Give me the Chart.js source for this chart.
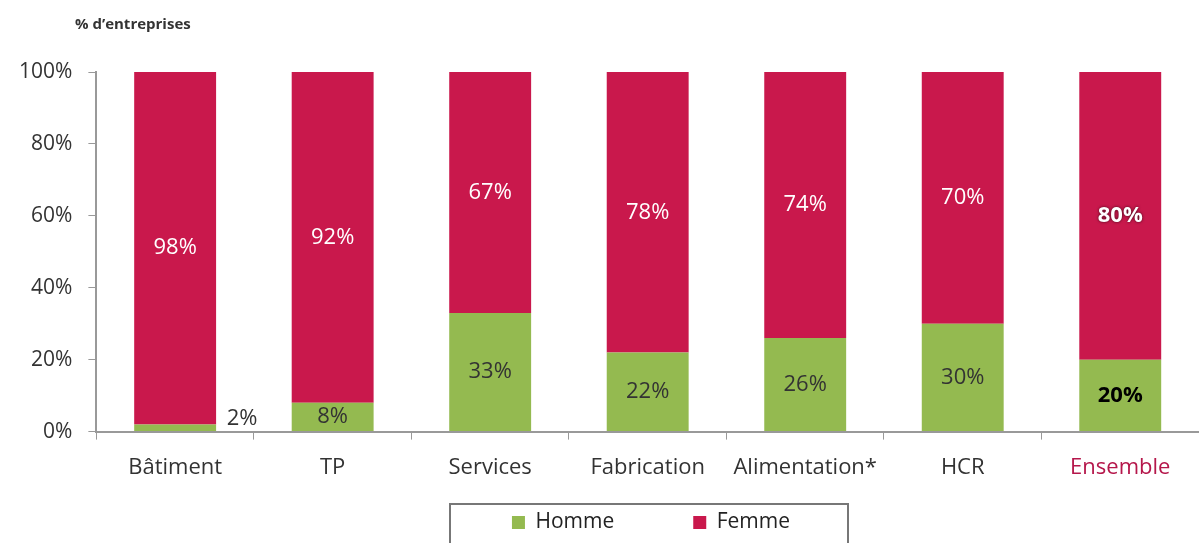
<!DOCTYPE html>
<html lang="fr">
<head>
<meta charset="UTF-8">
<title>Répartition hommes / femmes</title>
<style>
  html, body { margin: 0; padding: 0; background: #fff; }
  #wrap { width: 1199px; height: 543px; }
</style>
</head>
<body>
<div id="wrap"><canvas id="chart"></canvas></div>
<script src="https://cdn.jsdelivr.net/npm/chart.js"></script>
<script>
const categories = ['Bâtiment', 'TP', 'Services', 'Fabrication', 'Alimentation*', 'HCR', 'Ensemble'];
const homme = [2, 8, 33, 22, 26, 30, 20];
const femme = [98, 92, 67, 78, 74, 70, 80];
const yTicks = [0, 20, 40, 60, 80, 100];

const FONT = '"Open Sans", Lato, sans-serif';
const GREEN = '#94BA50';
const RED = '#C9184C';

// étiquettes de valeurs, titre de l'axe et cadre de la légende
const labelsPlugin = {
  id: 'valueLabels',
  afterLayout(chart) {
    // décaler la légende vers la droite comme dans l'original
    const lg = chart.legend;
    if (lg) { lg.left += 50; lg.right += 50; }
  },
  afterDatasetsDraw(chart) {
    const ctx = chart.ctx;
    ctx.save();
    ctx.textAlign = 'center';
    ctx.textBaseline = 'middle';
    chart.data.datasets.forEach((ds, di) => {
      chart.getDatasetMeta(di).data.forEach((bar, i) => {
        const last = i === categories.length - 1;
        const v = ds.data[i];
        let x = bar.x, y = (bar.y + bar.base) / 2;
        ctx.font = (last ? 'bold ' : '') + '22px ' + FONT;
        if (di === 0 && v < 5) {
          x = bar.x + bar.width / 2 + 26;
          y = bar.y - 6;
        }
        if (di === 1) {
          ctx.fillStyle = '#fff';
          if (last) { ctx.shadowColor = 'rgba(0,0,0,0.7)'; ctx.shadowBlur = 3; }
        } else {
          ctx.fillStyle = last ? '#000' : '#333';
        }
        ctx.fillText(v + '%', x, y);
        ctx.shadowBlur = 0; ctx.shadowColor = 'transparent';
      });
    });
    ctx.textAlign = 'left';
    ctx.fillStyle = '#333';
    ctx.font = 'bold 15px ' + FONT;
    ctx.fillText('% d\u2019entreprises', 75, 25);
    ctx.strokeStyle = '#777';
    ctx.lineWidth = 2;
    ctx.strokeRect(450, 504, 398, 50);
    ctx.restore();
  }
};

new Chart(document.getElementById('chart'), {
  type: 'bar',
  data: {
    labels: categories,
    datasets: [
      { label: 'Homme', data: homme, backgroundColor: GREEN },
      { label: 'Femme', data: femme, backgroundColor: RED }
    ]
  },
  options: {
    responsive: true,
    maintainAspectRatio: false,
    animation: false,
    layout: { padding: { top: 72, right: 0, left: 3, bottom: 0 } },
    datasets: { bar: { barPercentage: 0.52, categoryPercentage: 1 } },
    plugins: {
      legend: {
        position: 'bottom',
        labels: {
          font: { family: FONT, size: 21 },
          color: '#222',
          boxWidth: 13,
          boxHeight: 13,
          padding: 16,
          generateLabels(chart) {
            const items = Chart.defaults.plugins.legend.labels.generateLabels(chart);
            items[0].text += '\u2003\u2003\u2003';
            return items;
          }
        }
      },
      tooltip: { enabled: false }
    },
    scales: {
      x: {
        stacked: true,
        grid: { display: true, drawOnChartArea: false, offset: true, tickLength: 8, color: '#999' },
        border: { color: '#999', width: 2 },
        ticks: {
          font: { family: FONT, size: 22 },
          padding: 15,
          color: (c) => c.index === categories.length - 1 ? '#B5174B' : '#333'
        }
      },
      y: {
        stacked: true,
        min: 0,
        max: 100,
        afterBuildTicks: (axis) => { axis.ticks = yTicks.map(v => ({ value: v })); },
        grid: { display: true, drawOnChartArea: false, tickLength: 8, color: '#999' },
        border: { color: '#999', width: 2 },
        ticks: {
          font: { family: FONT, size: 21 },
          color: '#333',
          padding: 16,
          callback: (v) => v + '%'
        }
      }
    }
  },
  plugins: [labelsPlugin]
});
</script>
</body>
</html>
